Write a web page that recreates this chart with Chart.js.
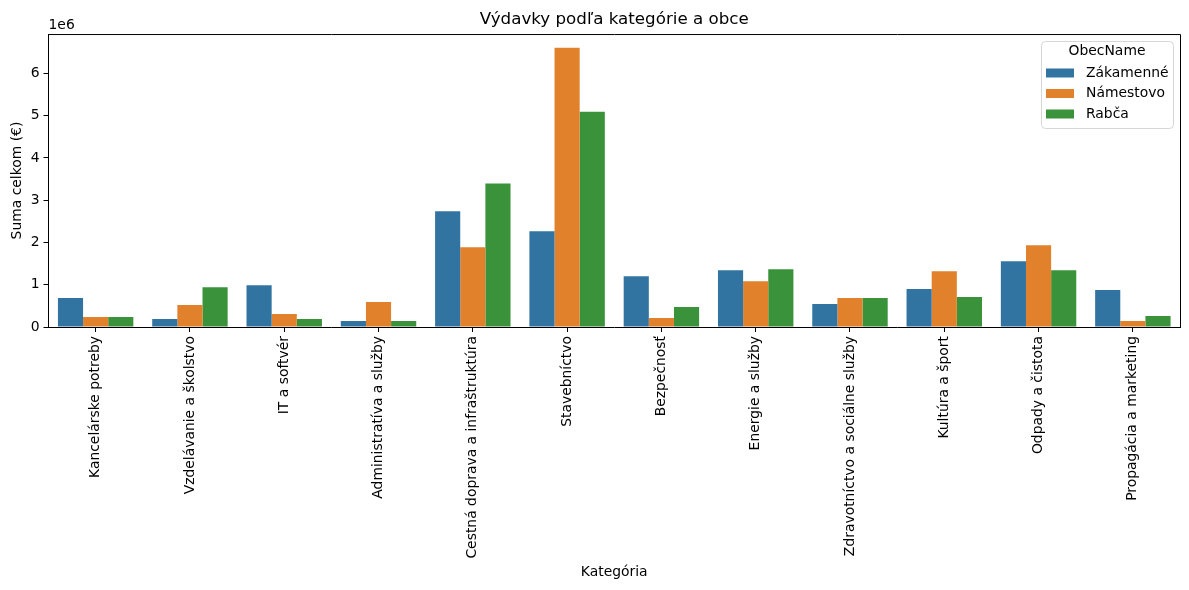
<!DOCTYPE html>
<html>
<head>
<meta charset="utf-8">
<script src="https://cdn.jsdelivr.net/npm/chart.js@4.4.1/dist/chart.umd.min.js"></script>
<style>
  html, body { margin: 0; padding: 0; background: #fff; }
  #wrap { width: 1189px; height: 590px; position: relative; }
</style>
</head>
<body>
<div id="wrap"><canvas id="expChart"></canvas></div>
<script>
// Categories on the x axis
const categories = [
  'Kancelárske potreby', 'Vzdelávanie a školstvo', 'IT a softvér', 'Administratíva a služby',
  'Cestná doprava a infraštruktúra', 'Stavebníctvo', 'Bezpečnosť', 'Energie a služby',
  'Zdravotníctvo a sociálne služby', 'Kultúra a šport', 'Odpady a čistota', 'Propagácia a marketing'
];

// Municipalities (hue) and their colours
const obce = ['Zákamenné', 'Námestovo', 'Rabča'];
const colors = ['#3274a1', '#e1812c', '#3a923a'];

// Spending per category (EUR)
const zakamenne = [684000, 189000, 990000, 142000, 2736000, 2264000, 1203000, 1344000, 542000, 896000, 1557000, 873000];
const namestovo = [236000, 519000, 307000, 590000, 1887000, 6604000, 212000, 1085000, 684000, 1321000, 1934000, 142000];
const rabca     = [236000, 943000, 189000, 142000, 3396000, 5094000, 472000, 1368000, 684000, 708000, 1344000, 259000];

// Y axis ticks (in millions)
const yTicks = [0, 1, 2, 3, 4, 5, 6];
const yMax = 6.93e6;

const values = [zakamenne, namestovo, rabca];
const FONT = 'DejaVu Sans';

// Draws the top/right spines, the "1e6" offset label and the legend box
const extras = {
  id: 'extras',
  afterDraw(chart) {
    const { ctx, chartArea: a } = chart;
    ctx.save();
    ctx.strokeStyle = '#000';
    ctx.lineWidth = 1;
    ctx.beginPath();
    ctx.moveTo(a.left, a.top + 0.5);
    ctx.lineTo(a.right + 0.5, a.top + 0.5);
    ctx.lineTo(a.right + 0.5, a.bottom);
    ctx.stroke();

    ctx.fillStyle = '#000';
    ctx.font = `13.9px "${FONT}"`;
    ctx.textAlign = 'left';
    ctx.textBaseline = 'bottom';
    ctx.fillText('1e6', a.left, a.top - 2);

    // legend
    const bx = 1041, by = 41, bw = 132, bh = 87, r = 4;
    ctx.beginPath();
    ctx.roundRect(bx + 0.5, by + 0.5, bw, bh, r);
    ctx.fillStyle = 'rgba(255,255,255,0.8)';
    ctx.fill();
    ctx.strokeStyle = '#d6d6d6';
    ctx.stroke();

    ctx.fillStyle = '#000';
    ctx.textAlign = 'center';
    ctx.textBaseline = 'middle';
    ctx.fillText('ObecName', bx + bw / 2, by + 10);
    ctx.textAlign = 'left';
    obce.forEach((name, i) => {
      const y = 73 + i * 20.5;
      ctx.fillStyle = colors[i];
      ctx.fillRect(1046, y - 4.5, 28, 9);
      ctx.fillStyle = '#000';
      ctx.fillText(name, 1086, y);
    });
    ctx.restore();
  }
};

new Chart(document.getElementById('expChart'), {
  type: 'bar',
  data: {
    labels: categories,
    datasets: obce.map((name, i) => ({
      label: name,
      data: values[i],
      backgroundColor: colors[i],
      borderWidth: 0,
      categoryPercentage: 0.8,
      barPercentage: 1.0
    }))
  },
  options: {
    responsive: true,
    maintainAspectRatio: false,
    animation: false,
    layout: { padding: { left: 0, right: 9, top: 0, bottom: 0 } },
    plugins: {
      legend: { display: false },
      tooltip: { enabled: false },
      title: {
        display: true,
        fullSize: false,
        text: 'Výdavky podľa kategórie a obce',
        color: '#000',
        font: { family: FONT, size: 16.7, weight: 'normal' },
        padding: { top: 10, bottom: 4 }
      }
    },
    scales: {
      x: {
        grid: { drawOnChartArea: false, drawTicks: true, tickLength: 5, color: '#000', offset: false },
        border: { display: true, color: '#000', width: 1 },
        ticks: {
          color: '#000',
          font: { family: FONT, size: 13.9 },
          minRotation: 90,
          maxRotation: 90,
          autoSkip: false,
          padding: 4
        },
        title: {
          display: true,
          text: 'Kategória',
          color: '#000',
          font: { family: FONT, size: 13.9 },
          padding: { top: 4, bottom: 9.7 }
        },
        afterFit(scale) { scale.height = 263; }
      },
      y: {
        min: 0,
        max: yMax,
        grid: { drawOnChartArea: false, drawTicks: true, tickLength: 5, color: '#000' },
        border: { display: true, color: '#000', width: 1 },
        ticks: {
          autoSkip: false,
          color: '#000',
          font: { family: FONT, size: 13.9 },
          padding: 4,
          callback: v => String(v / 1e6)
        },
        afterBuildTicks(scale) {
          scale.ticks = yTicks.map(t => ({ value: t * 1e6 }));
        },
        title: {
          display: true,
          text: 'Suma celkom (€)',
          color: '#000',
          font: { family: FONT, size: 13.9 },
          padding: { top: 8.7, bottom: 4 }
        },
        afterFit(scale) { scale.width = 48.5; }
      }
    }
  },
  plugins: [extras]
});
</script>
</body>
</html>
